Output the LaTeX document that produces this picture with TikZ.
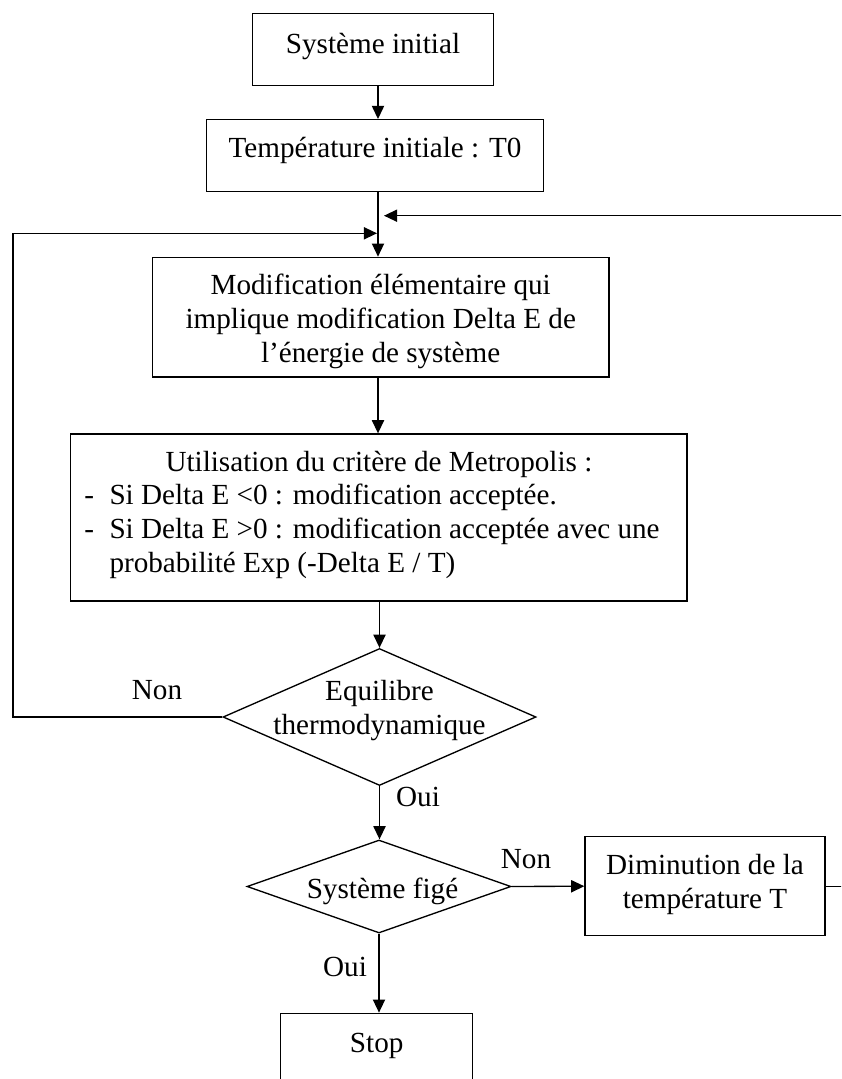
\documentclass[tikz,border=0pt]{standalone}
\usepackage{fontspec}
\setmainfont{Liberation Serif}
\usetikzlibrary{arrows.meta,shapes.geometric}
\newcommand\pu{0.4115pt}
\begin{document}
\begin{tikzpicture}[x=0.4115pt,y=-0.4115pt,
  every node/.style={font=\fontsize{12pt}{13.8pt}\selectfont},
  box/.style={draw,line width=0.55pt,inner sep=0pt,rectangle},
  dia/.style={draw,line width=0.55pt,diamond,inner sep=0pt},
  txt/.style={inner sep=0pt,align=center,anchor=north},
  lbl/.style={inner sep=0pt,anchor=base},
  conn/.style={line width=0.55pt},
  arr/.style={conn,-{Triangle[length=5.4pt,width=5pt]}}]
\useasboundingbox (0,0) rectangle (841,1079);
\clip (0,0) rectangle (841,1079);
\coordinate (spine) at (378,0);

% boxes
\node[box,minimum width=240.6*\pu,minimum height=72.4*\pu] (b1) at (373,49.5) {};
\node[box,minimum width=336.6*\pu,minimum height=72*\pu] (b2) at (375,155.7) {};
\node[box,minimum width=456.7*\pu,minimum height=119.7*\pu] (b3) at (380.7,317.2) {};
\node[box,minimum width=616.3*\pu,minimum height=167*\pu] (b4) at (378.9,517.5) {};
\node[dia,minimum width=313*\pu,minimum height=137*\pu] (d1) at (379.5,717) {};
\node[dia,minimum width=264*\pu,minimum height=93*\pu] (d2) at (379,886.5) {};
\node[box,minimum width=240*\pu,minimum height=99*\pu] (dim) at (705,886.2) {};
\node[box,minimum width=191.6*\pu,minimum height=90*\pu] (stop) at (376.5,1058.3) {};

% texts
\node[txt] (t1) at (373,29.8) {\strut Système initial};
\node[txt] (t2) at (375,133.2) {\strut Température initiale : T0};
\node[txt] (t3) at (380.7,271) {\strut Modification élémentaire qui\\\strut implique modification Delta E de\\\strut l’énergie de système};
\node[txt] (t4) at (378.9,447.5) {\strut Utilisation du critère de Metropolis :};
\node[inner sep=0pt,align=left,anchor=north west] (t4b) at (84,481) {%
\strut\makebox[10.3pt][l]{-}Si Delta E <0 : modification acceptée.\\
\strut\makebox[10.3pt][l]{-}Si Delta E >0 : modification acceptée avec une\\
\strut\hspace*{10.3pt}probabilité Exp (-Delta E / T)};
\node[txt] (t5) at (379.5,676.5) {\strut Equilibre\\\strut thermodynamique};
\node[txt] (t6) at (382.5,874.8) {\strut Système figé};
\node[txt] (t7) at (705,850.5) {\strut Diminution de la\\\strut température T};
\node[txt] (t8) at (376.7,1028.2) {\strut Stop};

% labels
\node[lbl] (l1) at (157,699.3) {Non};
\node[lbl] (l2) at (418,806) {Oui};
\node[lbl] (l3) at (526,868.3) {Non};
\node[lbl] (l4) at (345,976.7) {Oui};

% connectors
\coordinate (rin) at (384,215.7);
\coordinate (lin) at (377,233.3);
\draw[arr] (b1.south -| spine) -- (b2.north -| spine);
\draw[arr] (b2.south -| spine) -- (b3.north -| spine);
\draw[arr] (b3.south -| spine) -- (b4.north -| spine);
\draw[arr] (b4.south -| d1.north) -- (d1.north);
\draw[arr] (d1.south) -- (d1.south |- d2.north);
\draw[arr] (d2.south) -- (d2.south |- stop.north);
\draw[arr] (d2.east) -- (dim.west);
\draw[arr] (d1.west) -- (13,717) |- (lin);
\draw[arr] (dim.east) -- (870,886.2) |- (rin);
\end{tikzpicture}
\end{document}
